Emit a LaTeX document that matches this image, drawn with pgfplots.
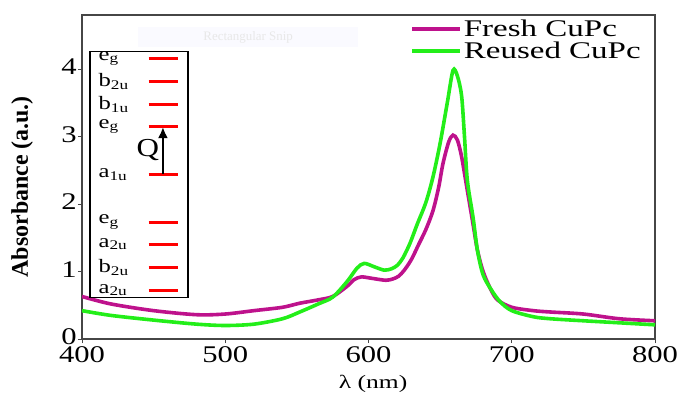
\documentclass[border=0pt]{standalone}
\usepackage{pgfplots}
\pgfplotsset{compat=1.18}
\usetikzlibrary{arrows.meta}
\usepackage{graphicx}
\usepackage{fontspec}
\setmainfont{Liberation Serif}
\definecolor{fresh}{RGB}{190,18,140}
\definecolor{reused}{RGB}{35,238,25}
\definecolor{axgray}{RGB}{70,70,70}
\newcommand{\wide}[1]{\scalebox{1.3}[1]{#1}}
\newcommand{\lev}[2]{%
  \node[anchor=west, inner sep=0pt, font=\fontsize{19}{21}\selectfont] at (axis cs:411.5,#1) {\wide{#2}};
  \draw[red, line width=3bp] (axis cs:446.5,#1) -- (axis cs:467,#1);}
\begin{document}
\begin{tikzpicture}
\useasboundingbox (-82bp,-55bp) rectangle (603bp,339bp);
\begin{axis}[
  at={(0,0)}, anchor=south west,
  scale only axis, width=573bp, height=324bp,
  xmin=400, xmax=800, ymin=0, ymax=4.8,
  xtick={400,500,600,700,800}, ytick={0,1,2,3,4},
  tick align=outside, major tick length=4bp,
  xtick pos=bottom, ytick pos=left,
  axis line style={axgray, line width=1.2bp},
  tick style={axgray, line width=0.8bp},
  xticklabel={\scalebox{1.28}[1]{\pgfmathprintnumber{\tick}}},
  yticklabel={\scalebox{1.28}[1]{\pgfmathprintnumber{\tick}}},
  /pgf/number format/assume math mode=true,
  tick label style={font=\fontsize{24}{26}\selectfont, inner sep=1bp},
  xticklabel style={yshift=-2bp},
  yticklabel style={yshift=2bp},
  xlabel={\fontsize{19}{21}\selectfont\scalebox{1.35}[1]{λ (nm)}},
  ylabel={\fontsize{24}{26}\selectfont\bfseries Absorbance (a.u.)},
  xlabel style={at={(axis description cs:0.508,-0.138)}, anchor=center},
  ylabel style={at={(axis description cs:-0.1047,0.47)}, anchor=center},
  legend style={draw=none, fill=none, at={(rel axis cs:0.979,0.985)}, anchor=north east,
    font=\fontsize{24}{26}\selectfont, row sep=4bp, inner sep=0pt,
    nodes={inner xsep=2bp, inner ysep=0bp}},
  legend cell align=left,
  legend image code/.code={\draw[#1] (0bp,0bp) -- (48bp,0bp);},
]
\addplot[fresh, line width=3.6bp, smooth, tension=0.5] coordinates {
(400,0.63)(420,0.52)(450,0.42)(480,0.36)(500,0.37)(520,0.42)(540,0.47)(552,0.53)(565,0.58)(575,0.63)(585,0.78)(590,0.88)(595,0.92)(602,0.90)(612,0.87)(617,0.89)(621,0.93)(625,1.02)(630,1.18)(635,1.4)(640,1.62)(645,1.9)(649,2.25)(652,2.6)(656,2.92)(659,3.02)(662,2.95)(665,2.7)(669,2.2)(673,1.7)(676,1.32)(680,1.0)(685,0.75)(690,0.58)(700,0.47)(715,0.42)(727,0.40)(750,0.37)(775,0.30)(800,0.27)};
\addlegendentry{\scalebox{1.38}[1]{Fresh CuPc}}
\addplot[reused, line width=3.6bp, smooth, tension=0.5] coordinates {
(400,0.42)(420,0.35)(450,0.28)(480,0.22)(500,0.20)(520,0.22)(540,0.30)(552,0.40)(565,0.52)(575,0.62)(585,0.85)(592,1.05)(597,1.12)(604,1.07)(611,1.02)(616,1.04)(620,1.09)(624,1.2)(629,1.42)(634,1.7)(640,2.02)(645,2.4)(650,2.9)(655,3.5)(659,3.98)(662,3.9)(665,3.6)(667,3.0)(669,2.35)(673,1.8)(676,1.32)(680,0.95)(686,0.72)(692,0.55)(700,0.42)(715,0.33)(727,0.30)(750,0.27)(775,0.24)(800,0.21)};
\addlegendentry{\scalebox{1.38}[1]{Reused CuPc}}
\node[fill=blue!2, text=gray!18, font=\fontsize{13}{15}\selectfont, minimum width=220bp, minimum height=20bp] at (axis cs:516,4.467) {Rectangular Snip};
\draw[black, line width=1.1bp, fill=white] (axis cs:405.6,0.62) rectangle (axis cs:474,4.265);
\lev{4.157}{e\textsubscript{g}}
\lev{3.817}{b\textsubscript{2u}}
\lev{3.476}{b\textsubscript{1u}}
\lev{3.151}{e\textsubscript{g}}
\lev{2.441}{a\textsubscript{1u}}
\lev{1.731}{e\textsubscript{g}}
\lev{1.405}{a\textsubscript{2u}}
\lev{1.065}{b\textsubscript{2u}}
\lev{0.725}{a\textsubscript{2u}}
\draw[-{Latex[length=11bp,width=10bp]}, black, line width=2.6bp] (axis cs:456.5,2.441) -- (axis cs:456.5,3.14);
\node[font=\fontsize{26}{28}\selectfont] at (axis cs:446,2.8) {\scalebox{1.2}[1]{Q}};
\end{axis}
\end{tikzpicture}
\end{document}
